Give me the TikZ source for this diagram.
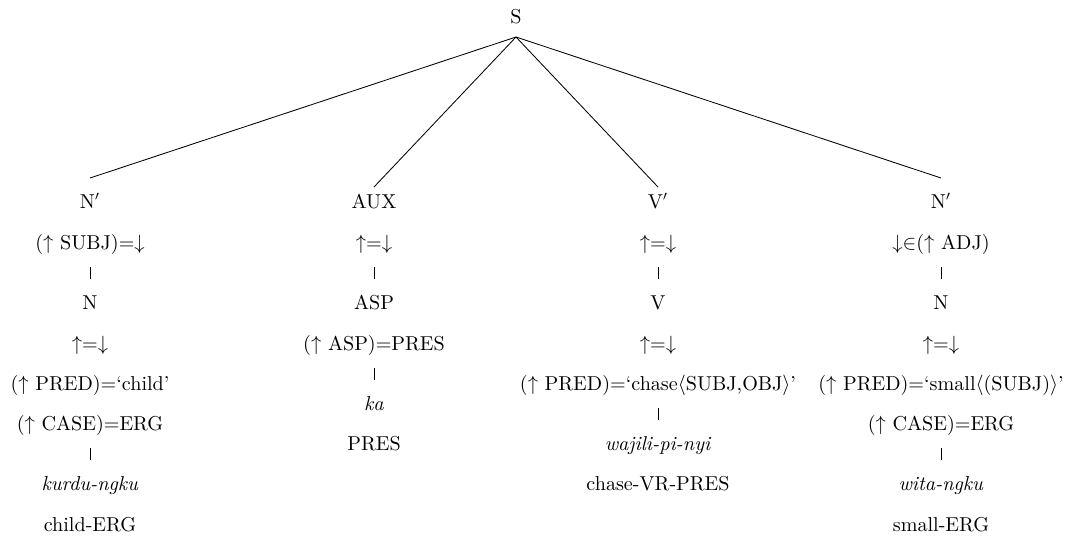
\documentclass[tikz,border=0pt]{standalone}
\usetikzlibrary{calc}
\begin{document}
\begin{tikzpicture}[x=0.532pt,y=-0.532pt,
  lab/.style={anchor=base,inner sep=0pt,font=\fontsize{10.7}{13}\selectfont},
  branch/.style={line width=0.45pt},
  bar/.style={line width=0.45pt}]
\useasboundingbox (0,0) rectangle (1068,536);
% root
\node[lab] (S) at (516,23) {S};
% column 1
\node[lab] (a1) at (90,208) {N\('\)};
\node[lab] (a2) at (90,249) {(\(\uparrow\) SUBJ)=\(\downarrow\)};
\node[lab] (a3) at (90,309) {N};
\node[lab] (a4) at (90,350) {\(\uparrow\)=\(\downarrow\)};
\node[lab] (a5) at (90,390) {(\(\uparrow\) PRED)=`child'};
\node[lab] (a6) at (90,430) {(\(\uparrow\) CASE)=ERG};
\node[lab] (a7) at (90,490) {\textit{kurdu-ngku}};
\node[lab] (a8) at (90,531) {child-ERG};
% column 2
\node[lab] (b1) at (374,208) {AUX};
\node[lab] (b2) at (374,249) {\(\uparrow\)=\(\downarrow\)};
\node[lab] (b3) at (374,309) {ASP};
\node[lab] (b4) at (374,350) {(\(\uparrow\) ASP)=PRES};
\node[lab] (b5) at (374,410) {\textit{ka}};
\node[lab] (b6) at (374,450) {PRES};
% column 3
\node[lab] (c1) at (658,208) {V\('\)};
\node[lab] (c2) at (658,249) {\(\uparrow\)=\(\downarrow\)};
\node[lab] (c3) at (658,309) {V};
\node[lab] (c4) at (658,350) {\(\uparrow\)=\(\downarrow\)};
\node[lab] (c5) at (658,390) {(\(\uparrow\) PRED)=`chase\(\langle\)SUBJ,OBJ\(\rangle\)'};
\node[lab] (c6) at (658,450) {\textit{wajili-pi-nyi}};
\node[lab] (c7) at (658,490) {chase-VR-PRES};
% column 4
\node[lab] (d1) at (941,208) {N\('\)};
\node[lab] (d2) at (941,249) {\(\downarrow\)\(\in\)(\(\uparrow\) ADJ)};
\node[lab] (d3) at (941,309) {N};
\node[lab] (d4) at (941,350) {\(\uparrow\)=\(\downarrow\)};
\node[lab] (d5) at (941,390) {(\(\uparrow\) PRED)=`small\(\langle\)(SUBJ)\(\rangle\)'};
\node[lab] (d6) at (941,430) {(\(\uparrow\) CASE)=ERG};
\node[lab] (d7) at (941,490) {\textit{wita-ngku}};
\node[lab] (d8) at (941,531) {small-ERG};
% branches from S
\coordinate (Sb) at ($(S.base)+(0,14)$);
\draw[branch] (Sb) -- ($(a1.base)+(0,-30)$);
\draw[branch] (Sb) -- ($(b1.base)+(0,-21)$);
\draw[branch] (Sb) -- ($(c1.base)+(0,-21)$);
\draw[branch] (Sb) -- ($(d1.base)+(0,-30)$);
% short bars
\foreach \u/\v in {a2/a3,a6/a7,b2/b3,b4/b5,c2/c3,c5/c6,d2/d3,d6/d7}
  \draw[bar] ($(\u.base)+(0,18)$) -- ($(\v.base)+(0,-30)$);
\end{tikzpicture}
\end{document}
